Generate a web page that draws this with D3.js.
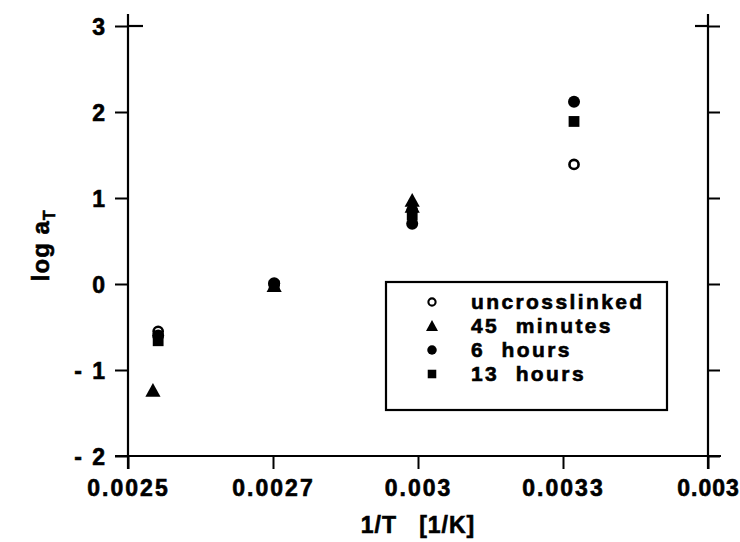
<!DOCTYPE html>
<html lang="en">
<head>
    <meta charset="UTF-8">
    <title>log aT vs 1/T</title>
    <script src="https://d3js.org/d3.v7.min.js"></script>
    <style>
        body { margin: 0; background: #fff; }
        svg text {
            font-family: "Liberation Sans", Arial, Helvetica, sans-serif;
            font-weight: bold;
            fill: #000;
            stroke: #000;
            stroke-width: 0.6px;
        }
        .axis text { font-size: 23px; letter-spacing: 2px; }
        .axis line { stroke: #000; stroke-width: 2; }
        .frame { stroke: #000; stroke-width: 2.2; fill: none; }
        .legend text { font-size: 21px; letter-spacing: 2.4px; }
    </style>
</head>
<body>
<script>
    // Tick values and labels as printed on the chart
    const xTicks = [0.0025, 0.00275, 0.003, 0.00325, 0.0035];
    const xTickLabels = ["0.0025", "0.0027", "0.003", "0.0033", "0.003"];
    const yTicks = [-2, -1, 0, 1, 2, 3];
    const yTickLabels = ["- 2", "- 1", "0", "1", "2", "3"];

    // Series: [1/T, log aT]
    const uncrosslinked = [[0.002552, -0.55], [0.002752, 0.0], [0.00299, 0.86], [0.003269, 1.39]];
    const minutes45 = [[0.002543, -1.24], [0.002752, -0.02], [0.00299, 0.97], [0.00299, 0.9]];
    const hours6 = [[0.002552, -0.6], [0.002752, 0.01], [0.00299, 0.7], [0.003269, 2.12]];
    const hours13 = [[0.002552, -0.66], [0.002752, -0.02], [0.00299, 0.8], [0.003269, 1.89]];

    const series = [
        { name: "uncrosslinked", data: uncrosslinked, shape: "open" },
        { name: "45  minutes", data: minutes45, shape: "triangle" },
        { name: "6  hours", data: hours6, shape: "circle" },
        { name: "13  hours", data: hours13, shape: "square" }
    ];

    const width = 740;
    const height = 542;
    const margin = { top: 26, right: 32, bottom: 86, left: 128 };

    const x = d3.scaleLinear()
        .domain([0.0025, 0.0035])
        .range([margin.left, width - margin.right]);

    const y = d3.scaleLinear()
        .domain([-2, 3])
        .range([height - margin.bottom, margin.top]);

    const svg = d3.select("body").append("svg")
        .attr("width", width)
        .attr("height", height);

    const tick = 13;

    // Left axis
    svg.append("g")
        .attr("class", "axis")
        .attr("transform", `translate(${x(0.0025)},0)`)
        .call(d3.axisLeft(y).tickValues(yTicks).tickSize(tick).tickPadding(8)
            .tickFormat((d, i) => yTickLabels[i]))
        .call(g => g.select(".domain").remove())
        .selectAll("text").attr("dy", "0.36em");

    // Right axis (ticks only)
    svg.append("g")
        .attr("class", "axis")
        .attr("transform", `translate(${x(0.0035)},0)`)
        .call(d3.axisRight(y).tickValues(yTicks).tickSize(12).tickFormat(""))
        .call(g => g.select(".domain").remove());

    // Bottom axis
    const xAxisG = svg.append("g")
        .attr("class", "axis")
        .attr("transform", `translate(0,${y(-2)})`)
        .call(d3.axisBottom(x).tickValues(xTicks).tickSize(tick).tickPadding(11)
            .tickFormat((d, i) => xTickLabels[i]))
        .call(g => g.select(".domain").remove());
    // last label sits at the right edge, keep it inside the page
    xAxisG.selectAll(".tick text")
        .filter((d, i) => i === xTicks.length - 1)
        .style("letter-spacing", "1px");

    // Frame lines
    const x0 = x(0.0025), x1 = x(0.0035);
    svg.append("line").attr("class", "frame")
        .attr("x1", x0).attr("x2", x0).attr("y1", y(3) - 12).attr("y2", y(-2) + tick);
    svg.append("line").attr("class", "frame")
        .attr("x1", x1).attr("x2", x1).attr("y1", y(3) - 12).attr("y2", y(-2) + tick);
    svg.append("line").attr("class", "frame")
        .attr("x1", x0 - tick).attr("x2", x1 + 13).attr("y1", y(-2)).attr("y2", y(-2));
    // Inner halves of the corner crosses
    svg.append("line").attr("class", "frame")
        .attr("x1", x0).attr("x2", x0 + 15).attr("y1", y(3)).attr("y2", y(3));
    svg.append("line").attr("class", "frame")
        .attr("x1", x1 - 13).attr("x2", x1).attr("y1", y(3)).attr("y2", y(3));

    // Axis titles
    svg.append("text")
        .attr("x", x(0.003))
        .attr("y", 533)
        .attr("text-anchor", "middle")
        .style("font-size", "23px")
        .style("letter-spacing", "1px")
        .attr("xml:space", "preserve")
        .text("1/T   [1/K]");

    const yTitle = svg.append("text")
        .attr("transform", `translate(49, ${y(0.45)}) rotate(-90)`)
        .attr("text-anchor", "middle")
        .style("font-size", "24px")
        .style("letter-spacing", "1px");
    yTitle.append("tspan").text("log a");
    yTitle.append("tspan").attr("dy", 6).style("font-size", "16px").text("T");

    // Marker drawing
    function drawMarker(g, shape, cx, cy, s) {
        if (shape === "open") {
            g.append("circle").attr("cx", cx).attr("cy", cy).attr("r", s * 0.38)
                .attr("fill", "#fff").attr("stroke", "#000").attr("stroke-width", s * 0.22);
        } else if (shape === "circle") {
            g.append("circle").attr("cx", cx).attr("cy", cy).attr("r", s * 0.5).attr("fill", "#000");
        } else if (shape === "square") {
            g.append("rect").attr("x", cx - s * 0.45).attr("y", cy - s * 0.45)
                .attr("width", s * 0.9).attr("height", s * 0.9).attr("fill", "#000");
        } else {
            const h = s * 1.15;
            g.append("path")
                .attr("d", `M${cx},${cy - h * 0.55}L${cx + h * 0.55},${cy + h * 0.45}L${cx - h * 0.55},${cy + h * 0.45}Z`)
                .attr("fill", "#000");
        }
    }

    const marks = svg.append("g");
    // open circles first, then squares, circles and triangles on top
    const drawOrder = [series[0], series[3], series[2], series[1]];
    for (const s of drawOrder) {
        for (const [vx, vy] of s.data) {
            drawMarker(marks, s.shape, x(vx), y(vy), 12);
        }
    }

    // Legend
    const legend = svg.append("g").attr("class", "legend");
    legend.append("rect")
        .attr("x", 386).attr("y", 282)
        .attr("width", 281).attr("height", 128)
        .attr("fill", "#fff").attr("stroke", "#000").attr("stroke-width", 2.2);

    series.forEach((s, i) => {
        const cy = 302 + i * 24;
        drawMarker(legend, s.shape, 432, cy, 9.5);
        legend.append("text")
            .attr("x", 471)
            .attr("y", cy + 7)
            .attr("xml:space", "preserve")
            .text(s.name);
    });
</script>
</body>
</html>
